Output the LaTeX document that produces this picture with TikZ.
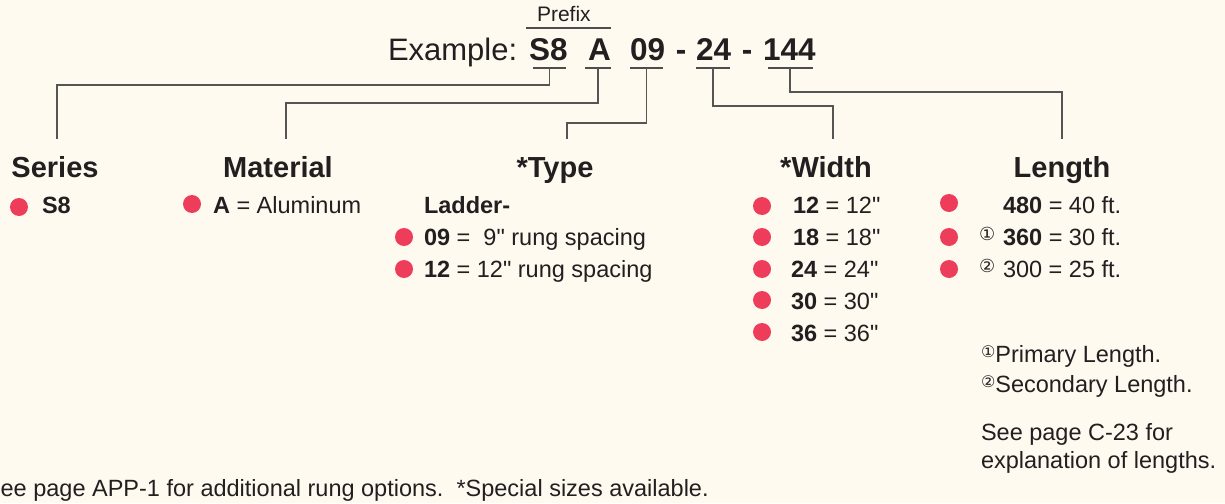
\documentclass[tikz,border=0pt]{standalone}
\usepackage{fontspec}
\usetikzlibrary{calc}
\setmainfont{Liberation Sans}
\newfontfamily\circfont{DejaVu Sans}
\newcommand\inchmark{\textquotedbl}
\definecolor{bg}{HTML}{FEFAF0}
\definecolor{dotred}{HTML}{EE3D5A}
\definecolor{ink}{HTML}{231F20}
\definecolor{wire}{HTML}{555555}
\begin{document}
\begin{tikzpicture}[x=1pt,y=-1pt,
  every node/.style={inner sep=0pt,outer sep=0pt,text=ink},
  title/.style={anchor=base west,font=\fontsize{31}{34}\selectfont},
  code/.style={anchor=base west,font=\fontsize{31.5}{34}\selectfont\bfseries},
  head/.style={anchor=base,font=\fontsize{29}{32}\selectfont\bfseries},
  item/.style={anchor=base west,font=\fontsize{23.5}{26}\selectfont},
  note/.style={anchor=base west,font=\fontsize{23.5}{26}\selectfont},
  circ/.style={anchor=base west,font=\fontsize{18}{19}\selectfont\circfont},
  bullet/.style={circle,fill=dotred,minimum size=18pt,inner sep=0pt},
  wireline/.style={draw=wire,line width=1.3pt},
  uline/.style={draw=ink!80,line width=1.4pt}]
\fill[bg] (0,0) rectangle (1225,503);
\useasboundingbox (0,0) rectangle (1225,503);

% title
\node[anchor=base west,font=\fontsize{21}{24}\selectfont] (prefix) at (537,22) {Prefix};
\coordinate (ovL) at (526,28); \coordinate (ovR) at (611,28);
\draw[uline,line width=1.1pt] (ovL) -- (ovR);
\node[title] (example) at (388,60) {Example:};
\node[code] (cS8) at (529,60) {S8};
\node[code] (cA) at (588,60) {A};
\node[code] (c09) at (630,60) {09};
\node[code,anchor=base] (d1) at (681,60) {-};
\node[code] (c24) at (696,60) {24};
\node[code,anchor=base] (d2) at (747,60) {-};
\node[code] (c144) at (763,60) {144};

% underlines
\coordinate (uS8a) at (533,68); \coordinate (uS8b) at (566,68);
\coordinate (uAa) at (585,68); \coordinate (uAb) at (611,68);
\coordinate (u09a) at (630,68); \coordinate (u09b) at (663,68);
\coordinate (u24a) at (696,68); \coordinate (u24b) at (730,68);
\coordinate (u144a) at (768,68); \coordinate (u144b) at (813,68);
\draw[uline] (uS8a) -- (uS8b);
\draw[uline] (uAa) -- (uAb);
\draw[uline] (u09a) -- (u09b);
\draw[uline] (u24a) -- (u24b);
\draw[uline] (u144a) -- (u144b);

% headings
\node[head] (hSeries) at (55,177) {Series};
\node[head] (hMaterial) at (278,177) {Material};
\node[head] (hType) at (555,177) {*Type};
\node[head] (hWidth) at (826,177) {*Width};
\node[head] (hLength) at (1062,177) {Length};

% connector ends
\coordinate (tSeries) at (57,139);
\coordinate (tMaterial) at (286,139);
\coordinate (tType) at (567,139);
\coordinate (tWidth) at (833,139);
\coordinate (tLength) at (1062,139);

\draw[wireline] ($(uS8a)!0.5!(uS8b)$) |- (57,85) -- (tSeries);
\draw[wireline] ($(uAa)!0.5!(uAb)$) |- (286,103) -- (tMaterial);
\draw[wireline] ($(u09a)!0.5!(u09b)$) |- (567,123) -- (tType);
\draw[wireline] ($(u24a)!0.5!(u24b)$) |- (833,106) -- (tWidth);
\draw[wireline] (790,68) |- (1062,92) -- (tLength);

% Series
\node[bullet] (bS) at (19,207) {};
\node[item] (iS) at (42,213) {\bfseries S8};
% Material
\node[bullet] (bM) at (192,204) {};
\node[item] (iM) at (213,213) {\textbf{A} = Aluminum};
% Type
\node[item] (lad) at (424,213) {\bfseries Ladder-};
\node[bullet] (bT1) at (404,237) {};
\node[item] (iT1) at (424,245) {\textbf{09} = \ 9\inchmark{} rung spacing};
\node[bullet] (bT2) at (404,269) {};
\node[item] (iT2) at (424,277) {\textbf{12} = 12\inchmark{} rung spacing};
% Width
\node[bullet] (bW1) at (762,206) {};
\node[item] (iW1) at (793,213) {\textbf{12} = 12\inchmark};
\node[bullet] (bW2) at (762,237) {};
\node[item] (iW2) at (793,245) {\textbf{18} = 18\inchmark};
\node[bullet] (bW3) at (762,269) {};
\node[item] (iW3) at (791,277) {\textbf{24} = 24\inchmark};
\node[bullet] (bW4) at (762,300) {};
\node[item] (iW4) at (791,309) {\textbf{30} = 30\inchmark};
\node[bullet] (bW5) at (762,332) {};
\node[item] (iW5) at (791,341) {\textbf{36} = 36\inchmark};
% Length
\node[bullet] (bL1) at (949,203) {};
\node[item] (iL1) at (1003,213) {\textbf{480} = 40 ft.};
\node[bullet] (bL2) at (949,237) {};
\node[circ] (c1) at (979,240) {①};
\node[item] (iL2) at (1003,245) {\textbf{360} = 30 ft.};
\node[bullet] (bL3) at (949,269) {};
\node[circ] (c2) at (979,272) {②};
\node[item] (iL3) at (1003,277) {300 = 25 ft.};

% notes
\node[note] (n1) at (981,362) {{\circfont\fontsize{16}{17}\selectfont\raisebox{5pt}{①}}Primary Length.};
\node[note] (n2) at (981,392) {{\circfont\fontsize{16}{17}\selectfont\raisebox{5pt}{②}}Secondary Length.};
\node[note] (n3) at (981,440) {See page C-23 for};
\node[note] (n4) at (981,468) {explanation of lengths.};

\node[note] (foot) at (-15,496) {See page APP-1 for additional rung options.\ \ *Special sizes available.};
\end{tikzpicture}
\end{document}
